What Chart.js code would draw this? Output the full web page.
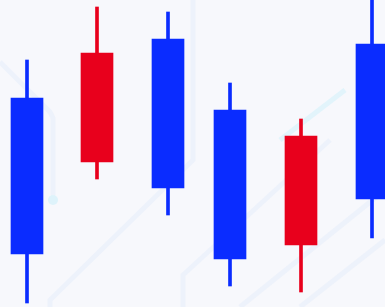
<!DOCTYPE html>
<html>
<head>
<meta charset="utf-8">
<script src="https://cdn.jsdelivr.net/npm/chart.js@4"></script>
<style>
  html, body { margin: 0; padding: 0; background: #f7f8fc; }
  #wrap { width: 385px; height: 307px; }
</style>
</head>
<body>
<div id="wrap"><canvas id="candles"></canvas></div>
<script>
// candle positions along the time axis and price values (arbitrary units)
const slots = [27, 97, 168, 230, 301, 372];
const opens = [53, 254, 119, 48, 171, 108];
const closes = [209, 145, 268, 197, 62, 263];
const highs = [247, 300, 295, 224, 188, 330];
const lows = [4, 128, 92, 21, 15, 69];

const BLUE = "#0a2cff";
const RED = "#e8001c";

const colors = opens.map((o, i) => closes[i] >= o ? BLUE : RED);
const bodies = slots.map((x, i) => ({ x, y: [opens[i], closes[i]] }));
const wicks = slots.map((x, i) => ({ x, y: [lows[i], highs[i]] }));

// faint circuit-board lines behind the candles
const backdrop = {
  id: "backdrop",
  beforeDraw(chart) {
    const c = chart.ctx;
    c.save();
    c.fillStyle = "#f7f8fc";
    c.fillRect(0, 0, chart.width, chart.height);
    c.lineWidth = 5;
    c.strokeStyle = "rgba(215,228,248,0.3)";
    const paths = [
      [[0, 62], [50, 112], [53, 118], [53, 195]],
      [[193, 0], [193, 160], [50, 300], [50, 307]],
      [[183, 307], [183, 275], [330, 140]],
      [[240, 307], [385, 190]],
      [[300, 307], [385, 240]]
    ];
    paths.forEach(p => {
      c.beginPath();
      c.moveTo(p[0][0], p[0][1]);
      p.slice(1).forEach(pt => c.lineTo(pt[0], pt[1]));
      c.stroke();
    });
    c.strokeStyle = "rgba(200,240,250,0.45)";
    c.beginPath();
    c.moveTo(280, 140);
    c.lineTo(345, 90);
    c.stroke();
    c.fillStyle = "rgba(205,240,250,0.6)";
    c.beginPath();
    c.arc(53, 200, 5, 0, Math.PI * 2);
    c.fill();
    c.restore();
  }
};

new Chart(document.getElementById("candles"), {
  type: "bar",
  data: {
    datasets: [
      { data: bodies, backgroundColor: colors, barThickness: 32, grouped: false },
      { data: wicks, backgroundColor: colors, barThickness: 3, grouped: false }
    ]
  },
  options: {
    responsive: true,
    maintainAspectRatio: false,
    animation: false,
    layout: { padding: 0 },
    plugins: { legend: { display: false }, tooltip: { enabled: false } },
    scales: {
      x: { type: "linear", min: 0, max: 385, offset: false, display: false },
      y: { min: 0, max: 307, display: false }
    }
  },
  plugins: [backdrop]
});
</script>
</body>
</html>
